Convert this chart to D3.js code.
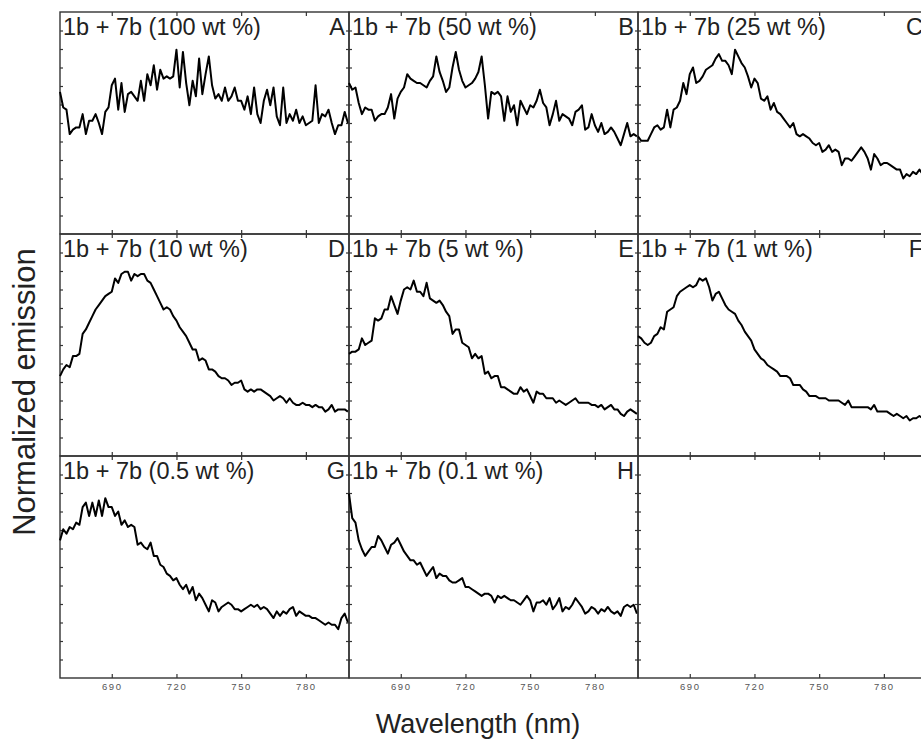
<!DOCTYPE html>
<html>
<head>
<meta charset="utf-8">
<script src="https://cdn.jsdelivr.net/npm/d3@7"></script>
<style>
  html, body { margin: 0; padding: 0; background: #fff; }
  svg { display: block; font-family: Arial, "Liberation Sans", sans-serif; }
</style>
</head>
<body>
<div id="chart"></div>
<script>
// wavelength sampling of every spectrum (nm)
const wlStart = 666
const wlStep = 1.5

const panelLabels = [
  "1b + 7b (100 wt %)", "1b + 7b (50 wt %)", "1b + 7b (25 wt %)",
  "1b + 7b (10 wt %)", "1b + 7b (5 wt %)", "1b + 7b (1 wt %)",
  "1b + 7b (0.5 wt %)", "1b + 7b (0.1 wt %)"
]
const panelLetters = ["A", "B", "C", "D", "E", "F", "G", "H"]
const xTicks = [690, 720, 750, 780]

// normalized emission, % of panel height
const emA = [64,57,56,45,47,48,48,54,45,51,51,54,50,45,55,57,67,70,56,68,55,63,64,62,60,69,60,72,67,76,
  65,74,70,71,70,71,83,66,82,68,58,69,62,79,63,72,80,67,61,63,60,66,60,62,66,60,60,56,62,54,
  66,54,50,60,65,58,66,53,49,66,50,54,51,56,50,53,49,50,51,67,50,54,53,56,50,45,49,49,55,50]
const emB = [68,65,66,59,54,57,56,56,51,53,54,54,57,63,52,61,64,66,72,70,69,68,68,67,66,69,71,80,73,69,
  64,66,75,82,74,69,66,67,68,70,73,80,67,52,64,63,64,62,51,62,55,58,49,60,57,54,58,57,60,65,
  59,57,49,54,60,51,54,53,52,49,55,56,58,47,48,54,49,46,50,45,46,48,46,43,40,45,50,44,45,44]
const emC = [44,42,42,42,45,48,49,47,48,56,48,56,57,60,68,63,72,75,68,69,71,74,75,76,79,81,78,78,76,72,
  83,80,77,75,71,66,70,68,61,60,62,56,59,55,54,52,50,48,50,45,44,45,44,43,41,40,41,37,38,40,
  37,38,37,31,34,34,33,35,37,39,37,34,29,36,34,31,32,32,31,30,29,29,25,27,26,28,27,29,27,27]
const emD = [36,39,41,40,45,45,46,55,57,60,63,66,68,70,72,73,74,80,78,82,83,83,79,82,81,82,82,79,78,75,
  72,69,66,67,66,63,61,58,56,54,51,48,48,43,44,43,39,39,38,36,35,35,34,32,33,33,34,30,29,30,
  29,30,30,29,28,27,25,26,27,26,24,26,24,23,23,24,23,23,22,23,22,22,20,21,23,20,21,21,21,20]
const emE = [46,47,47,48,53,50,51,52,62,61,62,66,66,72,68,64,70,75,76,75,79,74,74,72,78,71,70,69,70,68,
  65,63,55,57,57,51,50,49,44,46,44,45,37,38,35,36,36,31,31,30,29,28,28,31,29,30,27,24,29,28,
  28,26,26,26,24,25,24,23,24,25,26,24,24,24,24,23,23,22,23,21,22,23,21,21,19,18,20,21,20,19]
const emF = [54,53,51,50,51,54,55,58,57,65,66,67,72,74,75,76,77,76,77,80,79,80,76,70,73,74,71,68,66,65,
  64,61,59,56,54,52,48,46,44,43,41,40,39,38,36,36,36,35,32,32,32,30,29,27,27,27,26,26,26,25,
  25,25,25,24,23,25,22,22,22,22,22,22,21,23,20,20,20,20,19,18,19,18,17,18,16,17,17,18,17,17]
const emG = [62,67,65,68,67,70,69,77,79,73,79,73,80,73,81,77,77,73,75,69,71,68,69,68,60,61,59,58,61,55,
  55,51,50,47,46,44,45,42,40,42,38,41,35,38,36,33,30,35,34,30,32,33,34,33,31,31,30,31,32,33,
  32,33,31,32,31,29,27,30,28,30,29,31,32,28,30,29,28,28,27,27,26,25,24,25,24,24,22,27,29,25]
const emH = [83,72,70,62,58,55,57,59,59,64,62,59,56,60,61,63,60,57,55,53,53,51,52,49,46,48,50,45,47,46,
  46,44,43,43,44,45,41,41,40,39,38,37,38,38,37,34,37,36,37,36,35,35,34,33,35,37,35,30,34,34,
  35,33,36,31,33,36,30,32,31,33,36,34,32,29,30,32,31,29,31,30,32,30,29,30,28,32,33,32,33,29]

const spectra = [emA, emB, emC, emD, emE, emF, emG, emH]

const width = 921
const height = 740
const margin = {top: 12, left: 60}
const panelW = 289
const panelH = 222
const cols = 3
const rows = 3
const frameColor = "#333"
const textColor = "#222"

const svg = d3.select("#chart")
  .append("svg")
  .attr("width", width)
  .attr("height", height)

const x = d3.scaleLinear()
  .domain([666, 800])
  .range([0, panelW])

const y = d3.scaleLinear()
  .domain([0, 100])
  .range([panelH, 0])

const yMinor = d3.range(1, 12).map(k => k * 100 / 12)

const line = d3.line()
  .x((d, i) => x(wlStart + i * wlStep))
  .y(d => y(d))

const styleAxis = g => {
  g.select(".domain").remove()
  g.selectAll(".tick line").attr("stroke", frameColor).attr("stroke-width", 1.2)
}

for (let p = 0; p < rows * cols; p++) {
  const row = Math.floor(p / cols)
  const col = p % cols
  const g = svg.append("g")
    .attr("transform", `translate(${margin.left + col * panelW}, ${margin.top + row * panelH})`)

  // inward ticks on all four sides
  g.append("g").call(d3.axisLeft(y).tickValues(yMinor).tickSize(-3).tickFormat("")).call(styleAxis)
  g.append("g").attr("transform", `translate(${panelW},0)`)
    .call(d3.axisRight(y).tickValues(yMinor).tickSize(-3).tickFormat("")).call(styleAxis)
  g.append("g").call(d3.axisTop(x).tickValues(xTicks).tickSize(-4).tickFormat("")).call(styleAxis)

  const bottom = g.append("g").attr("transform", `translate(0,${panelH})`)
  if (row === rows - 1) {
    bottom.call(d3.axisBottom(x).tickValues(xTicks).tickSize(-4).tickPadding(5).tickFormat(d3.format("d")))
      .call(styleAxis)
    bottom.selectAll("text")
      .attr("fill", "#555")
      .attr("font-size", 9.5)
      .attr("letter-spacing", "1.6px")
  } else {
    bottom.call(d3.axisBottom(x).tickValues(xTicks).tickSize(-4).tickFormat("")).call(styleAxis)
  }

  g.append("rect")
    .attr("width", panelW)
    .attr("height", panelH)
    .attr("fill", "none")
    .attr("stroke", frameColor)
    .attr("stroke-width", 1.4)

  if (p >= spectra.length) continue

  g.append("path")
    .datum(spectra[p])
    .attr("fill", "none")
    .attr("stroke", "#000")
    .attr("stroke-width", 2)
    .attr("stroke-linejoin", "round")
    .attr("d", line)

  g.append("text")
    .attr("x", 3)
    .attr("y", 23)
    .attr("font-size", 23.5)
    .attr("fill", textColor)
    .text(panelLabels[p])

  g.append("text")
    .attr("x", panelW - 4)
    .attr("y", 23)
    .attr("font-size", 23.5)
    .attr("text-anchor", "end")
    .attr("fill", textColor)
    .text(panelLetters[p])
}

svg.append("text")
  .attr("x", 478)
  .attr("y", 733)
  .attr("text-anchor", "middle")
  .attr("font-size", 27)
  .attr("fill", textColor)
  .text("Wavelength (nm)")

svg.append("text")
  .attr("transform", "translate(35, 392) rotate(-90)")
  .attr("text-anchor", "middle")
  .attr("font-size", 31)
  .attr("fill", textColor)
  .text("Normalized emission")
</script>
</body>
</html>
